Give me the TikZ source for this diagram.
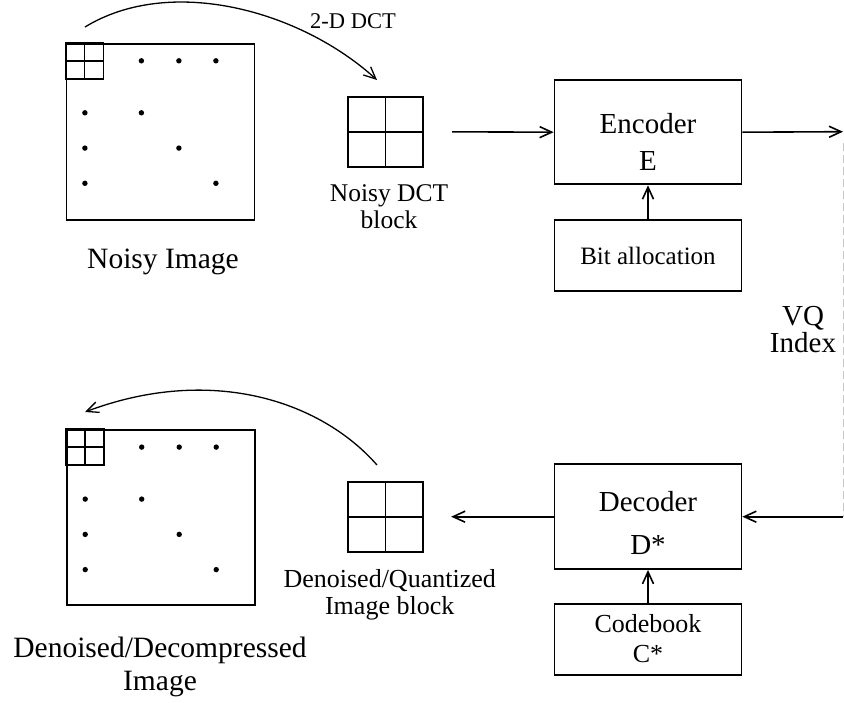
\documentclass[tikz,border=0pt]{standalone}
\usepackage{fontspec}
\setmainfont{Liberation Serif}
\usetikzlibrary{arrows.meta, positioning, calc}
\tikzset{
  box/.style={draw, line width=1.8pt, inner sep=0pt, minimum width=187pt},
  blk/.style={draw, line width=1.8pt, inner sep=0pt, minimum width=75.6pt, minimum height=70pt},
  img/.style={draw, line width=1.8pt, inner sep=0pt, minimum width=188pt, minimum height=176pt},
  flow/.style={line width=1.6pt, -{Straight Barb[length=12pt,width=11pt]}},
  txt/.style={align=center, inner sep=0pt},
}
\begin{document}
\begin{tikzpicture}[x=1pt, y=-1pt]
  \useasboundingbox (0,0) rectangle (844,702);

  % images
  \node[img] (noisyimg) at (160.5,131.7) {};
  \node[img, minimum height=175pt] (denimg) at (160.8,517.5) {};
  \foreach \im in {noisyimg,denimg}{
    \draw[line width=1.5pt] (\im.north west) rectangle ++(38,36);
    \draw[line width=1.5pt] ($(\im.north west)+(19,0)$) -- ++(0,36);
    \draw[line width=1.5pt] ($(\im.north west)+(0,18)$) -- ++(38,0);
    \foreach \c/\r in {75.8/18, 113.3/18, 150.3/18, 19.3/70, 75.8/70,
                       19.3/105.3, 113.3/105.3, 19.3/140.5, 150.3/140.5}{
      \fill ($(\im.north west)+(\c,\r)$) circle (2.7);
    }
  }
  \node[txt, font=\fontsize{29.5}{33}\selectfont] (noisylbl) at (163,262) {Noisy Image};
  \node[txt, font=\fontsize{29.5}{33}\selectfont] (denlbl) at (160,667) {Denoised/Decompressed\\Image};

  % DCT blocks
  \node[blk] (dct) at (385.5,131.7) {};
  \node[blk] (qblk) at (385.5,517.3) {};
  \foreach \b in {dct,qblk}{
    \draw[line width=1.8pt] (\b.north) -- (\b.south);
    \draw[line width=1.8pt] (\b.west) -- (\b.east);
  }
  \node[txt, font=\fontsize{25.5}{27}\selectfont] (dctlbl) at (389,207) {Noisy DCT\\block};
  \node[txt, font=\fontsize{26}{27}\selectfont] (qlbl) at (389.7,595) {Denoised/Quantized\\Image block};

  % coder boxes
  \node[box, minimum height=104.3pt] (enc) at (648,132.2) {};
  \node[txt, font=\fontsize{29}{30}\selectfont] (enctxt) at (648,141.5) {Encoder\\[7pt]E};
  \node[box, minimum height=70.7pt, font=\fontsize{25}{30}\selectfont] (bit) at (648,255.6) {Bit allocation};
  \node[box, minimum height=104.7pt] (dec) at (648,516.7) {};
  \node[txt, font=\fontsize{29}{30}\selectfont] (dectxt) at (648,523) {Decoder\\[13pt]D*};
  \node[box, minimum height=70.7pt] (cb) at (648,639.7) {};
  \node[txt, font=\fontsize{26}{30}\selectfont] (cbtxt) at (648,638.5) {Codebook\\C*};

  % channel
  \coordinate (vqout) at (843,131.7);
  \coordinate (vqin) at (843,516.7);
  \node[txt, font=\fontsize{29}{27}\selectfont] (vqlbl) at (803,330) {VQ\\Index};

  % transforms
  \coordinate (fwdS) at (85,27);
  \coordinate (fwdE) at (377,80);
  \coordinate (invS) at (377,465);
  \coordinate (invE) at (85,412);
  \node[txt, font=\fontsize{22.5}{24}\selectfont] (dctop) at (353,21) {2-D DCT};

  \draw[flow, line width=1.3pt] (fwdS) .. controls (170,-25) and (300,10) .. (fwdE);
  \draw[flow, line width=1.3pt] (invS) .. controls (320,400) and (210,365) .. (invE);
  \draw[flow, shorten <=28pt] (dct.east) -- (enc.west);
  \draw[flow] (bit.north) -- (enc.south);
  \draw[flow] (enc.east) -- (vqout);
  \draw[gray!45, line width=1pt, dash pattern=on 8pt off 4pt, shorten <=11pt] (vqout) -- (vqin);
  \draw[flow] (vqin) -- (dec.east);
  \draw[flow] (cb.north) -- (dec.south);
  \draw[flow, shorten >=27pt] (dec.west) -- (dec.west -| qblk.east);
\end{tikzpicture}
\end{document}
